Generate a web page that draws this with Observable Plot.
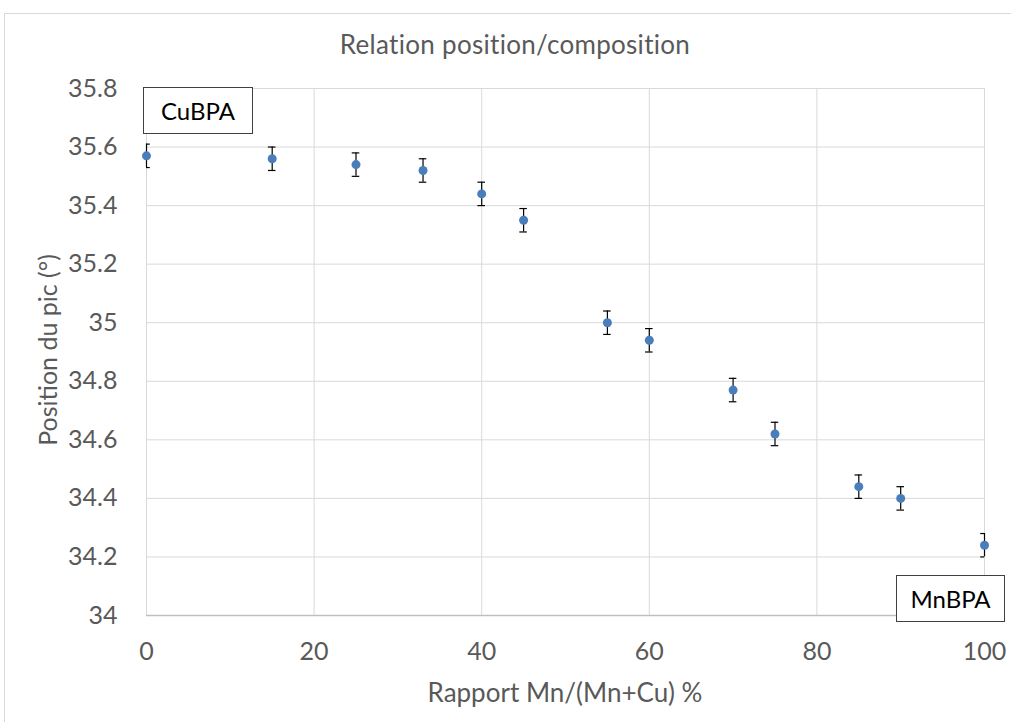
<!DOCTYPE html>
<html><head><meta charset="utf-8">
<script src="https://cdn.jsdelivr.net/npm/d3@7"></script>
<script src="https://cdn.jsdelivr.net/npm/@observablehq/plot@0.6"></script>
<style>
body{margin:0;background:#fff;}
#wrap{position:relative;width:1011px;height:722px;font-family:Lato,"Open Sans",sans-serif;overflow:hidden}
#frame{position:absolute;left:4px;top:13px;width:1020px;height:730px;border:1px solid #d9d9d9;box-sizing:border-box;pointer-events:none}
.box{position:absolute;border:1.5px solid #404040;background:#fff;display:flex;align-items:center;justify-content:center;font-size:24px;color:#000;box-sizing:border-box}
.lbl{position:absolute;color:#595959;white-space:nowrap}
#chart{position:absolute;left:0;top:0}
</style></head>
<body>
<div id="wrap">
  <div id="frame"></div>
  <div id="chart"></div>
  <div class="lbl" id="title" style="left:0;width:1030px;top:28px;text-align:center;font-size:26px;letter-spacing:0.3px;">Relation position/composition</div>
  <div class="lbl" id="xlab" style="left:0;width:1130px;top:676px;text-align:center;font-size:26px;">Rapport Mn/(Mn+Cu) %</div>
  <div class="lbl" id="ylab" style="left:47px;top:350px;font-size:25px;transform:translate(-50%,-50%) rotate(-90deg);">Position du pic (°)</div>
  <div class="box" style="left:143px;top:87px;width:110px;height:47px;">CuBPA</div>
  <div class="box" style="left:896px;top:575px;width:109px;height:47px;">MnBPA</div>
</div>
<script>
const ratio = [0, 15, 25, 33, 40, 45, 55, 60, 70, 75, 85, 90, 100];
const position = [35.57, 35.56, 35.54, 35.52, 35.44, 35.35, 35.00, 34.94, 34.77, 34.62, 34.44, 34.40, 34.24];
const errorBar = [0.04, 0.04, 0.04, 0.04, 0.04, 0.04, 0.04, 0.04, 0.04, 0.04, 0.04, 0.04, 0.04];
const xTicks = [0, 20, 40, 60, 80, 100];
const yTicks = [34, 34.2, 34.4, 34.6, 34.8, 35, 35.2, 35.4, 35.6, 35.8];

const data = ratio.map((x, i) => ({x, y: position[i], e: errorBar[i]}));
const capHalf = 0.45;

const chart = Plot.plot({
  width: 1011, height: 722,
  marginTop: 88, marginBottom: 107, marginLeft: 146, marginRight: 27,
  x: {domain: [0, 100]},
  y: {domain: [34, 35.8]},
  style: {fontFamily: 'Lato, "Open Sans", sans-serif', fontSize: "25px", color: "#595959", background: "transparent", overflow: "visible"},
  marks: [
    Plot.gridX(xTicks, {stroke: "#d9d9d9", strokeOpacity: 1}),
    Plot.gridY(yTicks, {stroke: "#d9d9d9", strokeOpacity: 1}),
    Plot.ruleY([34], {stroke: "#bfbfbf", strokeWidth: 1.3}),
    Plot.axisX(xTicks, {tickSize: 0, tickPadding: 27, label: null, fill: "#595959", fontSize: 25}),
    Plot.axisY(yTicks, {tickSize: 0, tickPadding: 29, label: null, tickFormat: d => String(d), fill: "#595959", fontSize: 25}),
    Plot.ruleX(data, {x: "x", y1: d => d.y - d.e, y2: d => d.y + d.e, stroke: "#000", strokeWidth: 1.2}),
    Plot.ruleY(data, {y: d => d.y - d.e, x1: d => d.x - capHalf, x2: d => d.x + capHalf, stroke: "#000", strokeWidth: 1.2, clip: true}),
    Plot.ruleY(data, {y: d => d.y + d.e, x1: d => d.x - capHalf, x2: d => d.x + capHalf, stroke: "#000", strokeWidth: 1.2, clip: true}),
    Plot.dot(data, {x: "x", y: "y", r: 4.5, fill: "#4a7ebb", stroke: "none"})
  ]
});
document.getElementById("chart").appendChild(chart);
</script>
</body></html>
